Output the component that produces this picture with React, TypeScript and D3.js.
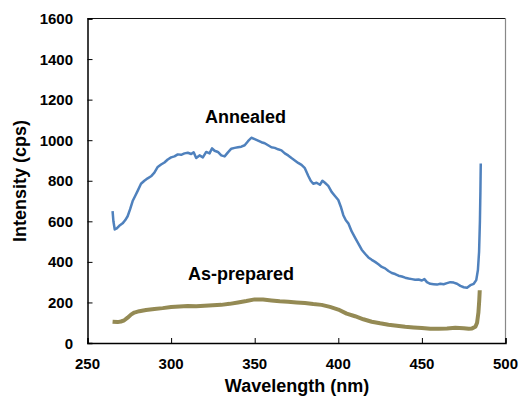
import React, { useRef, useEffect } from 'react';
import * as d3 from 'd3';

// Annealed spectrum (wavelength nm, intensity cps)
const annealedX = [265, 265.5, 266.3, 267.5, 269, 271, 272.5, 274, 275.5, 277, 278.5, 280, 282, 284, 286, 288, 290, 292, 294, 296, 298, 300, 302, 304, 306, 308, 310, 312, 313.5, 315, 317, 319, 321, 323, 324.5, 326, 328, 330, 332, 334, 336, 338, 340, 342, 344, 346, 348, 350, 352, 354, 356, 358, 360, 362, 364, 366, 368, 370, 372, 374, 376, 378, 380, 382, 383.5, 385, 387, 389, 390.5, 392, 394, 396, 398, 400, 401.5, 403, 404.5, 406, 408, 410, 412, 414, 416, 418, 420, 422, 424, 426, 428, 430, 432, 434, 436, 438, 440, 442, 444, 446, 448, 450, 451.5, 453, 455, 457, 459, 461, 463, 465, 467, 469, 471, 473, 475, 477, 479, 481, 482.5, 483.5, 484.2, 484.7, 485, 485.2];
const annealedY = [650, 600, 560, 565, 578, 590, 605, 625, 660, 700, 725, 750, 785, 800, 812, 822, 840, 868, 880, 890, 905, 915, 920, 930, 928, 935, 938, 932, 940, 912, 925, 915, 942, 935, 960, 948, 942, 925, 920, 940, 958, 962, 965, 968, 975, 995, 1012, 1005, 998, 990, 985, 975, 965, 962, 955, 950, 935, 925, 912, 900, 888, 878, 862, 825, 800, 785, 790, 780, 800, 790, 775, 745, 725, 705, 672, 630, 605, 590, 550, 520, 490, 460, 440, 422, 410, 400, 388, 375, 368, 355, 345, 340, 332, 328, 322, 318, 315, 312, 313, 308, 315, 300, 292, 290, 288, 292, 290, 295, 300, 298, 292, 282, 275, 272, 285, 292, 310, 360, 450, 600, 750, 885];

// As-prepared spectrum
const preparedX = [265, 268, 270, 272, 274, 276, 278, 281, 285, 290, 295, 300, 305, 310, 315, 320, 325, 330, 335, 340, 345, 350, 355, 360, 365, 370, 375, 380, 385, 390, 395, 400, 405, 410, 415, 420, 425, 430, 435, 440, 445, 450, 455, 460, 465, 470, 475, 478, 480, 482, 483, 483.8, 484.3, 484.6];
const preparedY = [105, 103, 106, 112, 125, 140, 150, 157, 163, 168, 172, 177, 180, 183, 181, 184, 186, 188, 193, 200, 207, 215, 214, 210, 206, 203, 200, 197, 192, 188, 178, 165, 145, 132, 117, 105, 97, 90, 85, 80, 77, 74, 70, 70, 72, 75, 73, 70, 72, 80, 100, 150, 210, 260];

const xTicks = [250, 300, 350, 400, 450, 500];
const yTicks = [0, 200, 400, 600, 800, 1000, 1200, 1400, 1600];

const App = () => {
    const chartRef = useRef<HTMLDivElement>(null);

    useEffect(() => {
        d3.select(chartRef.current).select("svg").remove();

        const width = 520, height = 397;
        const left = 87.5, right = 505.5, top = 18.5, bottom = 343;
        const font = "'Liberation Sans', Arial, sans-serif";

        const svg = d3.select(chartRef.current)
            .append("svg")
            .attr("width", width)
            .attr("height", height)
            .style("position", "absolute")
            .style("left", 0)
            .style("top", 0)
            .style("background", "#fff");

        const x = d3.scaleLinear().domain([250, 500]).range([left, right]);
        const y = d3.scaleLinear().domain([0, 1600]).range([bottom, top]);

        // frame
        svg.append("line").attr("x1", left).attr("x2", right).attr("y1", top).attr("y2", top)
            .attr("stroke", "#111").attr("stroke-width", 1.2);
        svg.append("line").attr("x1", right).attr("x2", right).attr("y1", top).attr("y2", bottom)
            .attr("stroke", "#888").attr("stroke-width", 1.2);

        // y axis
        const yAxis = svg.append("g").attr("transform", `translate(${left},0)`)
            .call(d3.axisRight(y).tickValues(yTicks).tickSize(5).tickFormat(() => ""));
        yAxis.select(".domain").attr("stroke", "#000").attr("stroke-width", 1.5);
        yAxis.selectAll(".tick line").attr("stroke", "#000").attr("stroke-width", 1);

        svg.selectAll("text.ytick")
            .data(yTicks)
            .enter()
            .append("text")
            .attr("class", "ytick")
            .attr("x", 73)
            .attr("y", d => y(d) + 5.5)
            .attr("text-anchor", "end")
            .style("font-family", font)
            .style("font-weight", "bold")
            .style("font-size", "15px")
            .text(d => d);

        // x axis
        const xAxis = svg.append("g").attr("transform", `translate(0,${bottom})`)
            .call(d3.axisTop(x).tickValues(xTicks).tickSize(5).tickFormat(() => ""));
        xAxis.select(".domain").attr("stroke", "#000").attr("stroke-width", 1.5);
        xAxis.selectAll(".tick line").attr("stroke", "#000").attr("stroke-width", 1);

        svg.selectAll("text.xtick")
            .data(xTicks)
            .enter()
            .append("text")
            .attr("class", "xtick")
            .attr("x", d => x(d))
            .attr("y", 369)
            .attr("text-anchor", "middle")
            .style("font-family", font)
            .style("font-weight", "bold")
            .style("font-size", "15px")
            .text(d => d);

        // axis titles
        svg.append("text")
            .attr("transform", "translate(26,181)rotate(-90)")
            .attr("text-anchor", "middle")
            .style("font-family", font)
            .style("font-weight", "bold")
            .style("font-size", "18px")
            .text("Intensity (cps)");

        svg.append("text")
            .attr("x", 297)
            .attr("y", 392)
            .attr("text-anchor", "middle")
            .style("font-family", font)
            .style("font-weight", "bold")
            .style("font-size", "18px")
            .text("Wavelength (nm)");

        const line = d3.line<[number, number]>()
            .x(d => x(d[0]))
            .y(d => y(d[1]));

        // series
        svg.append("path")
            .datum(d3.zip(preparedX, preparedY) as [number, number][])
            .attr("fill", "none")
            .attr("stroke", "#948A54")
            .attr("stroke-width", 4)
            .attr("stroke-linejoin", "round")
            .attr("d", line);

        svg.append("path")
            .datum(d3.zip(annealedX, annealedY) as [number, number][])
            .attr("fill", "none")
            .attr("stroke", "#4F81BD")
            .attr("stroke-width", 2.5)
            .attr("stroke-linejoin", "round")
            .attr("d", line);

        // labels
        svg.append("text")
            .attr("x", 245.5)
            .attr("y", 123)
            .attr("text-anchor", "middle")
            .style("font-family", font)
            .style("font-weight", "bold")
            .style("font-size", "18px")
            .text("Annealed");

        svg.append("text")
            .attr("x", 241)
            .attr("y", 280)
            .attr("text-anchor", "middle")
            .style("font-family", font)
            .style("font-weight", "bold")
            .style("font-size", "18px")
            .text("As-prepared");
    }, []);

    return <div ref={chartRef} />;
};

export default App;
